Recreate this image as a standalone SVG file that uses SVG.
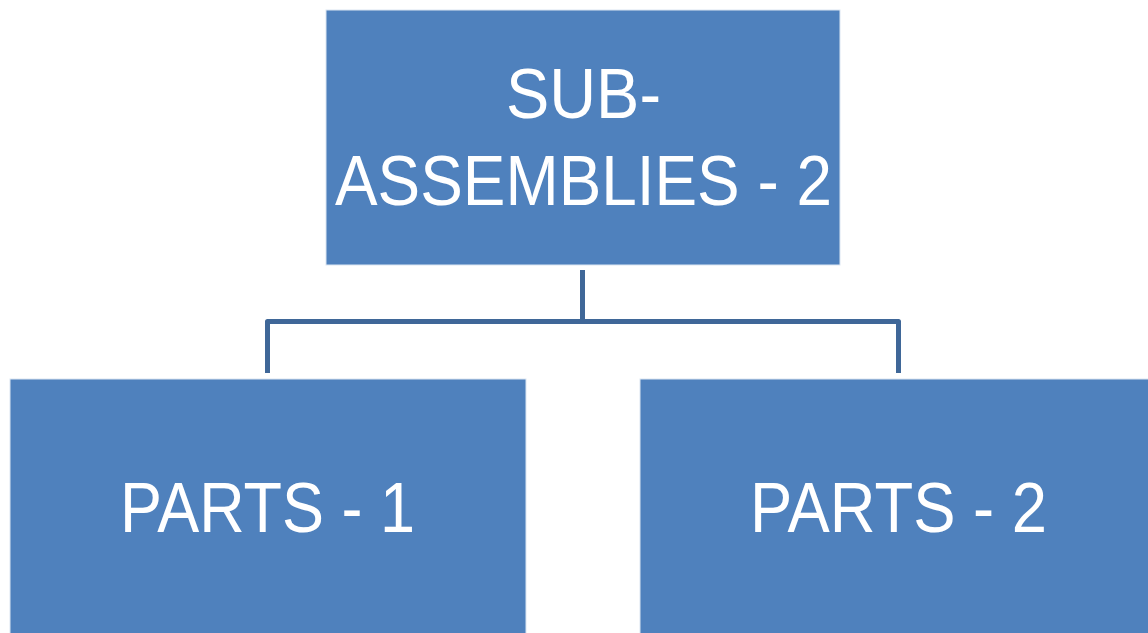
<svg xmlns="http://www.w3.org/2000/svg" width="1148" height="633" viewBox="0 0 1148 633">
<style>
.box{fill:#4F81BD;stroke:#DCE6F2;stroke-width:1}
.t{font-family:"Liberation Sans",Arial,sans-serif;font-size:70px;fill:#FFFFFF;text-anchor:middle}
.c{fill:none;stroke:#3F6798;stroke-width:5;stroke-linejoin:round}
</style>
<rect width="1148" height="633" fill="#FFFFFF"/>
<g id="connectors">
<path class="c" d="M582.5,270 V321.5"/>
<path class="c" d="M267.5,373 V321.5 H898.5 V373"/>
</g>
<g id="sub-assemblies">
<rect class="box" x="326" y="10" width="514" height="255"/>
<text class="t" x="583.5" y="118" textLength="155" lengthAdjust="spacingAndGlyphs">SUB-</text>
<text class="t" x="583.5" y="205" textLength="497" lengthAdjust="spacingAndGlyphs">ASSEMBLIES - 2</text>
</g>
<g id="parts-1">
<rect class="box" x="10" y="379" width="516" height="260"/>
<text class="t" x="267.5" y="532" textLength="295" lengthAdjust="spacingAndGlyphs">PARTS - 1</text>
</g>
<g id="parts-2">
<rect class="box" x="640" y="379" width="520" height="260"/>
<text class="t" x="898.5" y="532" textLength="297" lengthAdjust="spacingAndGlyphs">PARTS - 2</text>
</g>
</svg>
